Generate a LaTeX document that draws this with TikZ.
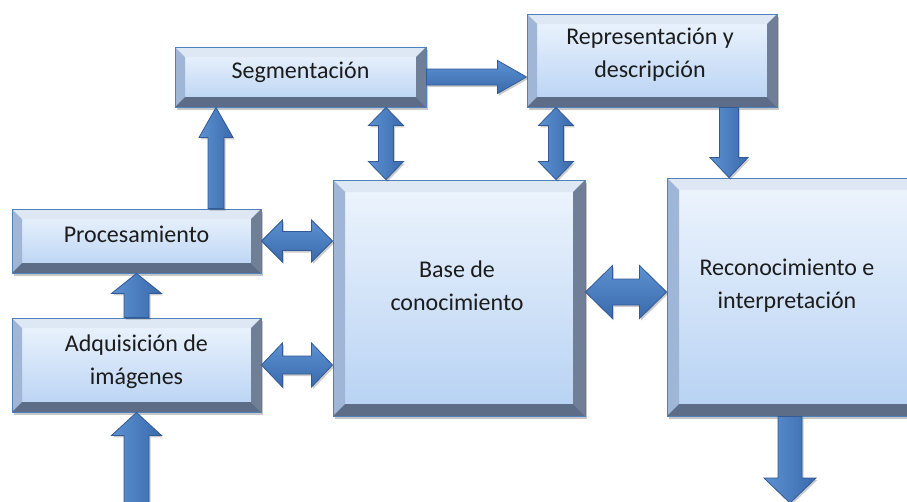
\documentclass[tikz,border=0pt]{standalone}
\usepackage{fontspec}
\setmainfont{Carlito}
\usetikzlibrary{calc,shadows}
\definecolor{boxline}{RGB}{79,129,189}
\definecolor{boxtop}{RGB}{238,245,253}
\definecolor{boxbot}{RGB}{182,209,243}
\definecolor{bevT}{RGB}{222,232,244}
\definecolor{bevL}{RGB}{160,182,214}
\definecolor{bevR}{RGB}{112,127,152}
\definecolor{bevB}{RGB}{93,109,136}
\definecolor{arrA}{RGB}{92,145,210}
\definecolor{arrB}{RGB}{58,106,172}
\definecolor{arrD}{RGB}{50,90,148}
\definecolor{txtc}{RGB}{28,28,28}
\newcommand\bevw{10pt}
\tikzset{
  bevbox/.style={rectangle, draw=boxline, line width=0.9pt, inner sep=0pt,
    top color=boxtop, bottom color=boxbot,
    drop shadow={shadow xshift=2pt, shadow yshift=-3pt, opacity=0.22, fill=black},
    path picture={
      \fill[bevT] (path picture bounding box.north west) -- (path picture bounding box.north east)
        -- ([xshift=-\bevw,yshift=-\bevw]path picture bounding box.north east)
        -- ([xshift=\bevw,yshift=-\bevw]path picture bounding box.north west) -- cycle;
      \fill[bevL] (path picture bounding box.north west) -- (path picture bounding box.south west)
        -- ([xshift=\bevw,yshift=\bevw]path picture bounding box.south west)
        -- ([xshift=\bevw,yshift=-\bevw]path picture bounding box.north west) -- cycle;
      \fill[bevR] (path picture bounding box.north east) -- (path picture bounding box.south east)
        -- ([xshift=-\bevw,yshift=\bevw]path picture bounding box.south east)
        -- ([xshift=-\bevw,yshift=-\bevw]path picture bounding box.north east) -- cycle;
      \fill[bevB] (path picture bounding box.south west) -- (path picture bounding box.south east)
        -- ([xshift=-\bevw,yshift=\bevw]path picture bounding box.south east)
        -- ([xshift=\bevw,yshift=\bevw]path picture bounding box.south west) -- cycle;
    }},
  boxtxt/.style={align=center, inner sep=0pt, text=txtc, font=\fontsize{24}{33}\selectfont},
  arrsty/.style={draw=arrD, line width=0.8pt,
    drop shadow={shadow xshift=1.5pt, shadow yshift=-2pt, opacity=0.2, fill=black}},
  varr/.style={left color=arrA, right color=arrB},
  harr/.style={top color=arrA, bottom color=arrB},
}
% single fat arrow: [style]{from}{to}{shaft half}{head half}{head length}
\newcommand\fatarrow[6][]{%
  \path[arrsty,#1] let \p1=(#2), \p2=(#3), \n1={atan2(\y2-\y1,\x2-\x1)},
      \n2={veclen(\x2-\x1,\y2-\y1)} in
    [shift={(\p1)}, rotate=\n1]
    (0,#4) -- (\n2-#6,#4) -- (\n2-#6,#5) -- (\n2,0) -- (\n2-#6,-#5)
    -- (\n2-#6,-#4) -- (0,-#4) -- cycle;}
% double fat arrow
\newcommand\fatdarrow[6][]{%
  \path[arrsty,#1] let \p1=(#2), \p2=(#3), \n1={atan2(\y2-\y1,\x2-\x1)},
      \n2={veclen(\x2-\x1,\y2-\y1)} in
    [shift={(\p1)}, rotate=\n1]
    (0,0) -- (#6,#5) -- (#6,#4) -- (\n2-#6,#4) -- (\n2-#6,#5) -- (\n2,0)
    -- (\n2-#6,-#5) -- (\n2-#6,-#4) -- (#6,-#4) -- (#6,-#5) -- cycle;}
\begin{document}
\begin{tikzpicture}[x=1pt,y=-1pt]
\path[use as bounding box] (0,0) rectangle (907,501);
\fill[white] (0,0) rectangle (907,501);
\clip (0,0) rectangle (907,501);

% boxes
\node[bevbox, minimum width=251pt, minimum height=60pt] (seg) at (300.5,77) {};
\node[bevbox, minimum width=250pt, minimum height=93pt] (rep) at (652,60.5) {};
\node[bevbox, minimum width=249pt, minimum height=64pt] (proc) at (136.5,241) {};
\node[bevbox, minimum width=249pt, minimum height=94pt] (adq) at (136.5,365) {};
\renewcommand\bevw{12pt}
\node[bevbox, minimum width=252pt, minimum height=236pt] (base) at (459,298) {};
\node[bevbox, minimum width=252pt, minimum height=238pt] (rec) at (793,297) {};

% texts
\node[boxtxt] (segt) at ([yshift=5pt]seg.center) {Segmentación};
\node[boxtxt] (rept) at ([xshift=-2pt,yshift=5.5pt]rep.center) {Representación y\\descripción};
\node[boxtxt] (proct) at ([yshift=7pt]proc.center) {Procesamiento};
\node[boxtxt] (adqt) at ([yshift=3.5pt]adq.center) {Adquisición de\\imágenes};
\node[boxtxt] (baset) at ([xshift=-2pt,yshift=12pt]base.center) {Base de\\conocimiento};
\node[boxtxt] (rect) at ([xshift=-6pt,yshift=11.5pt]rec.center) {Reconocimiento e\\interpretación};

% connector anchor points
\coordinate (a2s) at ([xshift=79.5pt]proc.north);
\coordinate (a3s) at ([xshift=-73pt]base.north);
\coordinate (a4s) at ([xshift=97pt]base.north);
\coordinate (a5e) at ([xshift=-64pt]rec.north);
\coordinate (a8s) at ([yshift=6pt]base.east);
\coordinate (inp) at (136.5,515);
\coordinate (o1) at ([xshift=-3pt]rec.south);
\coordinate (outp) at (790,503);

% arrows
\fatarrow[harr]{seg.east}{rep.west |- seg.east}{8}{16.5}{29}
\fatarrow[varr]{a2s}{seg.south -| a2s}{8}{17}{30}
\fatdarrow[varr]{a3s}{seg.south -| a3s}{7.5}{17.5}{18}
\fatdarrow[varr]{a4s}{rep.south -| a4s}{7.5}{17.5}{18}
\fatarrow[varr]{rep.south -| a5e}{a5e}{9.5}{19}{20}
\fatdarrow[harr]{proc.east}{base.west |- proc.east}{9.5}{21}{21}
\fatdarrow[harr]{adq.east}{base.west |- adq.east}{9}{22}{21}
\fatdarrow[harr]{a8s}{rec.west |- a8s}{13}{26.5}{27}
\fatarrow[varr]{adq.north}{proc.south}{12.5}{25}{20}
\fatarrow[varr]{inp}{adq.south}{12.5}{25}{23}
\fatarrow[varr]{o1}{outp}{12}{26}{25}
\end{tikzpicture}
\end{document}
